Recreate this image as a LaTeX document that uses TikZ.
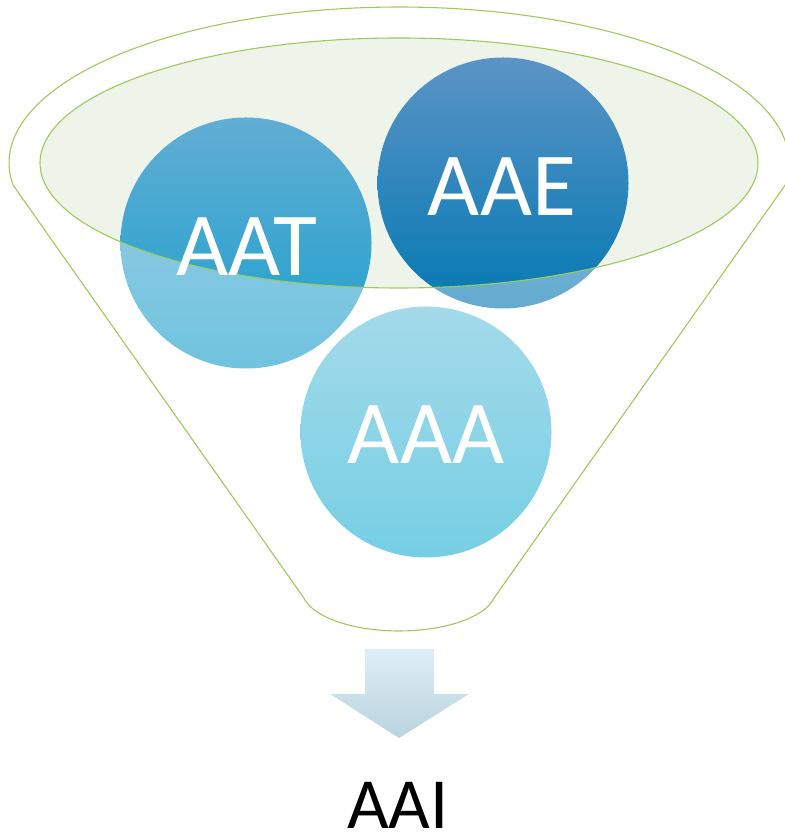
\documentclass[tikz,border=0pt]{standalone}
\usepackage{fontspec}
\setmainfont{Carlito}
\definecolor{aatT}{HTML}{62ADD4}
\definecolor{aatB}{HTML}{19A0CC}
\definecolor{aaeT}{HTML}{5B94C5}
\definecolor{aaeB}{HTML}{0479B3}
\definecolor{aaaT}{HTML}{A4DAEA}
\definecolor{aaaB}{HTML}{76CFE4}
\definecolor{ellfill}{HTML}{EEF4EA}
\definecolor{fgreen}{HTML}{9CCB5B}
\definecolor{arrT}{HTML}{DFEEF5}
\definecolor{arrB}{HTML}{B9D4DF}
\begin{document}
\begin{tikzpicture}[x=1pt,y=1pt,
  rim/.style={draw=fgreen, line width=1.1pt},
  ball/.style={circle, minimum size=251pt, inner sep=0pt, outer sep=0pt, draw=none},
  lbl/.style={text=white, font=\fontsize{90}{90}\selectfont, inner sep=0pt},
  outlbl/.style={text=black, font=\fontsize{72}{72}\selectfont, inner sep=0pt}]
\useasboundingbox (0,0) rectangle (784,832);
% inner ellipse fill
\fill[ellfill] (399,669) ellipse [x radius=359, y radius=125];
% circles
\node[ball, top color=aatT, bottom color=aatB] (aat) at (246,589) {};
\node[ball, top color=aaeT, bottom color=aaeB] (aae) at (503,649) {};
% lighter parts outside the ellipse
\begin{scope}
  \clip (246,589) circle (126);
  \fill[white, fill opacity=0.38, even odd rule] (0,0) rectangle (784,832) (399,669) ellipse [x radius=359, y radius=125];
\end{scope}
\begin{scope}
  \clip (503,649) circle (126);
  \fill[white, fill opacity=0.38, even odd rule] (0,0) rectangle (784,832) (399,669) ellipse [x radius=359, y radius=125];
\end{scope}
\node[ball, top color=aaaT, bottom color=aaaB] (aaa) at (426,400) {};
% ellipse outline
\draw[rim] (399,669) ellipse [x radius=359, y radius=125];
% funnel outline
\draw[rim] (13,647) arc[start angle=188.1, end angle=-8.1, x radius=390, y radius=156]
  -- (494.2,234.2) arc[start angle=349, end angle=191, x radius=97, y radius=41] -- cycle;
% labels
\node[lbl] (taat) at (247,585) {AAT};
\node[lbl] (taae) at (502,645) {AAE};
\node[lbl] (taaa) at (426,397) {AAA};
% arrow
\shade[top color=arrT, bottom color=arrB] (365,183) -- (434,183) -- (434,138) -- (469,138) -- (399,94) -- (330,138) -- (365,138) -- cycle;
\node[outlbl] (aai) at (398,26.5) {AAI};
\end{tikzpicture}
\end{document}
